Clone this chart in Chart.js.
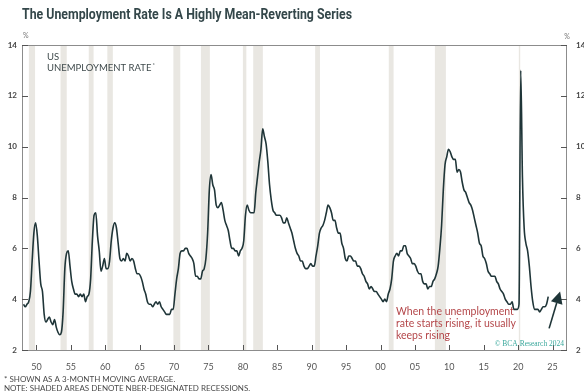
<!DOCTYPE html>
<html>
<head>
<meta charset="utf-8">
<script src="https://cdn.jsdelivr.net/npm/chart.js@4.4.1/dist/chart.umd.min.js"></script>
<style>
  body { margin: 0; background: #fff; }
  canvas { display: block; }
</style>
</head>
<body>
<canvas id="grafico" width="584" height="392" style="width:584px;height:392px"></canvas>
<script>
// Dados: taxa de desemprego dos EUA, media movel de 3 meses (valores trimestrais)
const startYear = 1948;
const rate = [
  3.8, 3.7, 3.8, 3.9,   // 1948
  4.3, 5.5, 6.6, 7.0,   // 1949
  6.5, 5.5, 4.6, 4.3,   // 1950
  3.4, 3.1, 3.2, 3.3,   // 1951
  3.1, 3.0, 3.2, 2.9,   // 1952
  2.7, 2.6, 2.7, 3.5,   // 1953
  5.2, 5.8, 5.9, 5.3,   // 1954
  4.7, 4.4, 4.2, 4.2,   // 1955
  4.1, 4.2, 4.1, 4.2,   // 1956
  3.9, 4.1, 4.2, 4.8,   // 1957
  6.3, 7.3, 7.4, 6.5,   // 1958
  5.9, 5.1, 5.3, 5.6,   // 1959
  5.2, 5.2, 5.5, 6.3,   // 1960
  6.8, 7.0, 6.8, 6.2,   // 1961
  5.6, 5.5, 5.6, 5.5,   // 1962
  5.8, 5.7, 5.5, 5.6,   // 1963
  5.5, 5.2, 5.0, 5.0,   // 1964
  4.9, 4.7, 4.4, 4.2,   // 1965
  3.9, 3.8, 3.8, 3.7,   // 1966
  3.8, 3.9, 3.8, 3.9,   // 1967
  3.7, 3.6, 3.5, 3.4,   // 1968
  3.4, 3.4, 3.6, 3.6,   // 1969
  4.2, 4.8, 5.2, 5.8,   // 1970
  5.9, 5.9, 6.0, 6.0,   // 1971
  5.8, 5.7, 5.6, 5.4,   // 1972
  4.9, 4.9, 4.8, 4.8,   // 1973
  5.1, 5.2, 5.6, 6.6,   // 1974
  8.3, 8.9, 8.5, 8.3,   // 1975
  7.7, 7.6, 7.7, 7.8,   // 1976
  7.5, 7.1, 6.9, 6.7,   // 1977
  6.3, 6.0, 6.0, 5.9,   // 1978
  5.9, 5.7, 5.9, 6.0,   // 1979
  6.3, 7.3, 7.7, 7.5,   // 1980
  7.4, 7.4, 7.4, 8.2,   // 1981
  8.8, 9.4, 9.9, 10.7,  // 1982
  10.4, 10.1, 9.4, 8.5, // 1983
  7.9, 7.5, 7.4, 7.3,   // 1984
  7.3, 7.3, 7.2, 7.0,   // 1985
  7.0, 7.2, 7.0, 6.8,   // 1986
  6.6, 6.3, 6.0, 5.8,   // 1987
  5.7, 5.5, 5.5, 5.3,   // 1988
  5.2, 5.2, 5.3, 5.4,   // 1989
  5.3, 5.3, 5.7, 6.1,   // 1990
  6.6, 6.8, 6.9, 7.1,   // 1991
  7.4, 7.7, 7.6, 7.4,   // 1992
  7.1, 7.1, 6.8, 6.6,   // 1993
  6.6, 6.2, 6.0, 5.6,   // 1994
  5.5, 5.7, 5.7, 5.6,   // 1995
  5.5, 5.5, 5.3, 5.3,   // 1996
  5.2, 5.0, 4.9, 4.7,   // 1997
  4.6, 4.4, 4.5, 4.4,   // 1998
  4.3, 4.3, 4.2, 4.1,   // 1999
  4.0, 3.9, 4.0, 3.9,   // 2000
  4.2, 4.4, 4.8, 5.5,   // 2001
  5.7, 5.8, 5.7, 5.9,   // 2002
  5.9, 6.1, 6.1, 5.8,   // 2003
  5.7, 5.6, 5.4, 5.4,   // 2004
  5.3, 5.1, 5.0, 5.0,   // 2005
  4.7, 4.6, 4.6, 4.4,   // 2006
  4.5, 4.5, 4.7, 4.8,   // 2007
  5.0, 5.3, 6.0, 6.9,   // 2008
  8.3, 9.3, 9.6, 9.9,   // 2009
  9.8, 9.6, 9.5, 9.5,   // 2010
  9.0, 9.1, 9.0, 8.6,   // 2011
  8.3, 8.2, 8.0, 7.8,   // 2012
  7.7, 7.5, 7.2, 6.9,   // 2013
  6.6, 6.2, 6.1, 5.7,   // 2014
  5.6, 5.4, 5.1, 5.0,   // 2015
  4.9, 4.9, 4.9, 4.7,   // 2016
  4.6, 4.4, 4.3, 4.2,   // 2017
  4.0, 3.9, 3.8, 3.8,   // 2018
  3.9, 3.6, 3.6, 3.6,   // 2019
  3.8, 13.0, 8.8, 6.8,  // 2020
  6.2, 5.9, 5.3, 4.5,   // 2021
  3.9, 3.6, 3.6, 3.6,   // 2022
  3.5, 3.6, 3.7, 3.7,   // 2023
  3.8, 4.1              // 2024
];

// Recessoes NBER (inicio / fim em anos decimais)
const recStart = [1948.9, 1953.5, 1957.6, 1960.3, 1969.9, 1973.9, 1980.0, 1981.5, 1990.5, 2001.2, 2007.9, 2020.1];
const recEnd   = [1949.8, 1954.4, 1958.3, 1961.1, 1970.9, 1975.2, 1980.5, 1982.9, 1991.2, 2001.9, 2009.5, 2020.3];

const xTickYears = [1950, 1955, 1960, 1965, 1970, 1975, 1980, 1985, 1990, 1995, 2000, 2005, 2010, 2015, 2020, 2025];
const xTickLabels = ['50', '55', '60', '65', '70', '75', '80', '85', '90', '95', '00', '05', '10', '15', '20', '25'];
const yTicks = [2, 4, 6, 8, 10, 12, 14];

// seta da anotacao, em unidades dos eixos
const arrowFrom = [2024.5, 2.85];
const arrowTo = [2026.1, 4.3];

const pontos = rate.map((v, i) => ({ x: startYear + i * 0.25 + 0.125, y: v }));

const corLinha = '#1f3538';
const corTexto = '#3f4a4c';

const extras = {
  id: 'extras',
  beforeDatasetsDraw(chart) {
    const { ctx, chartArea: a, scales } = chart;
    ctx.save();
    ctx.fillStyle = '#e9e7e2';
    recStart.forEach((s, i) => {
      const x1 = scales.x.getPixelForValue(s);
      const x2 = scales.x.getPixelForValue(recEnd[i]);
      ctx.fillRect(x1, a.top, Math.max(1.2, x2 - x1), a.bottom - a.top);
    });
    ctx.restore();
  },
  afterDraw(chart) {
    const { ctx, chartArea: a, scales } = chart;
    ctx.save();
    // moldura
    ctx.strokeStyle = '#8c8c8c';
    ctx.lineWidth = 1;
    ctx.strokeRect(a.left + 0.5, a.top + 0.5, a.right - a.left - 1, a.bottom - a.top);
    // marcas dos eixos, para dentro
    ctx.strokeStyle = '#555';
    ctx.beginPath();
    yTicks.forEach(v => {
      const y = Math.round(scales.y.getPixelForValue(v)) + 0.5;
      ctx.moveTo(a.left, y); ctx.lineTo(a.left + 6, y);
      ctx.moveTo(a.right, y); ctx.lineTo(a.right - 6, y);
    });
    xTickYears.forEach(v => {
      const x = Math.round(scales.x.getPixelForValue(v)) + 0.5;
      ctx.moveTo(x, a.bottom); ctx.lineTo(x, a.bottom - 5);
    });
    ctx.stroke();

    // titulo
    ctx.fillStyle = '#34474a';
    ctx.font = 'bold 14px Roboto';
    ctx.textBaseline = 'alphabetic';
    ctx.textAlign = 'left';
    const titulo = 'The Unemployment Rate Is A Highly Mean-Reverting Series';
    const w = ctx.measureText(titulo).width;
    ctx.save();
    ctx.translate(22, 19);
    ctx.scale(330 / w, 1);
    ctx.fillText(titulo, 0, 0);
    ctx.restore();

    // unidades
    ctx.fillStyle = '#777';
    ctx.font = '7px Lato';
    ctx.textBaseline = 'middle';
    ctx.fillText('%', 23, 36);
    ctx.textAlign = 'center';
    ctx.fillText('%', a.right, 37);

    // legenda da serie
    ctx.textAlign = 'left';
    ctx.fillStyle = corTexto;
    ctx.font = '9.5px Lato';
    ctx.fillText('US', 47, 57);
    ctx.fillText('UNEMPLOYMENT RATE', 47, 68);
    const wu = ctx.measureText('UNEMPLOYMENT RATE').width;
    ctx.font = '6px Lato';
    ctx.fillText('*', 47 + wu + 1, 65);

    // anotacao
    ctx.fillStyle = '#b4474a';
    ctx.font = '10.5px Lato';
    ctx.fillText('When the unemployment', 396, 312);
    ctx.fillText('rate starts rising, it usually', 396, 324);
    ctx.fillText('keeps rising', 396, 336);

    // copyright
    ctx.fillStyle = '#3aa89c';
    ctx.font = '7.5px "Liberation Serif"';
    ctx.textAlign = 'right';
    ctx.fillText('\u00a9 BCA Research 2024', 564, 344);

    // notas de rodape
    ctx.textAlign = 'left';
    ctx.fillStyle = '#4a4a4a';
    ctx.font = '8px Lato';
    ctx.fillText('* SHOWN AS A 3-MONTH MOVING AVERAGE.', 4, 379);
    ctx.fillText('NOTE: SHADED AREAS DENOTE NBER-DESIGNATED RECESSIONS.', 4, 388);

    // seta
    const x1 = scales.x.getPixelForValue(arrowFrom[0]);
    const y1 = scales.y.getPixelForValue(arrowFrom[1]);
    const x2 = scales.x.getPixelForValue(arrowTo[0]);
    const y2 = scales.y.getPixelForValue(arrowTo[1]);
    const ang = Math.atan2(y2 - y1, x2 - x1);
    const hl = 12, hw = 6;
    const bx = x2 - hl * Math.cos(ang), by = y2 - hl * Math.sin(ang);
    ctx.strokeStyle = corLinha;
    ctx.lineWidth = 1.6;
    ctx.beginPath();
    ctx.moveTo(x1, y1); ctx.lineTo(bx, by);
    ctx.stroke();
    ctx.fillStyle = corLinha;
    ctx.beginPath();
    ctx.moveTo(x2, y2);
    ctx.lineTo(bx + hw * Math.sin(ang), by - hw * Math.cos(ang));
    ctx.lineTo(bx - hw * Math.sin(ang), by + hw * Math.cos(ang));
    ctx.closePath();
    ctx.fill();
    ctx.restore();
  }
};

const ctx = document.getElementById('grafico').getContext('2d');

const meuGrafico = new Chart(ctx, {
  type: 'line',
  data: {
    datasets: [{
      label: 'US unemployment rate',
      data: pontos,
      borderColor: corLinha,
      borderWidth: 1.6,
      pointRadius: 0,
      fill: false,
      cubicInterpolationMode: 'monotone'
    }]
  },
  options: {
    responsive: false,
    animation: false,
    layout: { padding: { top: 45, left: 0, right: 0, bottom: 0 } },
    plugins: {
      legend: { display: false },
      tooltip: { enabled: false }
    },
    scales: {
      x: {
        type: 'linear',
        min: 1947.9,
        max: 2027.1,
        afterBuildTicks: s => { s.ticks = xTickYears.map(v => ({ value: v })); },
        afterFit: s => { s.height = 42; },
        grid: { display: false, drawTicks: false },
        border: { display: false },
        ticks: {
          padding: 12,
          maxRotation: 0,
          autoSkip: false,
          color: '#555',
          font: { family: 'Lato', size: 9 },
          callback: v => xTickLabels[xTickYears.indexOf(v)]
        }
      },
      y: {
        position: 'left',
        min: 2,
        max: 14,
        afterBuildTicks: s => { s.ticks = yTicks.map(v => ({ value: v })); },
        afterFit: s => { s.width = 22; },
        grid: { display: false, drawTicks: false },
        border: { display: false },
        ticks: { padding: 5, color: '#444', font: { family: 'Lato', size: 8, weight: 'bold' } }
      },
      y2: {
        position: 'right',
        min: 2,
        max: 14,
        afterBuildTicks: s => { s.ticks = yTicks.map(v => ({ value: v })); },
        afterFit: s => { s.width = 17; },
        grid: { display: false, drawTicks: false },
        border: { display: false },
        ticks: { padding: 9, color: '#444', font: { family: 'Lato', size: 8, weight: 'bold' } }
      }
    }
  },
  plugins: [extras]
});
</script>
</body>
</html>
